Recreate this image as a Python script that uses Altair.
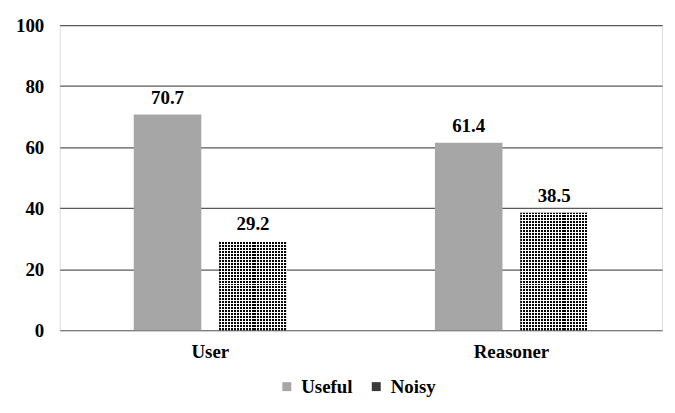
import math
import altair as alt
import pandas as pd

# ---------------- data ----------------
categories = ["User", "Reasoner"]
series = ["Useful", "Noisy"]
useful_values = [70.7, 61.4]
noisy_values = [29.2, 38.5]
y_ticks = [0, 20, 40, 60, 80, 100]

rows = []
for c, u, n in zip(categories, useful_values, noisy_values):
    rows.append({"category": c, "type": "Useful", "value": u})
    rows.append({"category": c, "type": "Noisy", "value": n})
df = pd.DataFrame(rows)

# ---------------- style ----------------
PLOT_W, PLOT_H = 606, 307
FONT = "Times New Roman"
FS = 19
BAR_W = 69
PERIOD = 3.0
GRAY = "#a6a6a6"
FRAME = "#595959"

x_enc = alt.X(
    "category:N", sort=categories,
    scale=alt.Scale(paddingInner=0, paddingOuter=0),
    axis=alt.Axis(title=None, labelAngle=0, ticks=False, domain=False,
                  labelFont=FONT, labelFontWeight="bold", labelFontSize=FS,
                  labelColor="black", labelPadding=12),
)
xo_enc = alt.XOffset(
    "type:N", sort=series,
    scale=alt.Scale(domain=series, paddingInner=0.21, paddingOuter=0.866),
)
y_enc = alt.Y(
    "value:Q",
    scale=alt.Scale(domain=[0, 100], nice=False),
    axis=alt.Axis(title=None, values=y_ticks, ticks=False, domain=False,
                  grid=True, gridColor=FRAME, gridWidth=1.2, gridOpacity=1,
                  labelFont=FONT, labelFontWeight="bold", labelFontSize=FS,
                  labelColor="black", labelPadding=16),
)

base = alt.Chart(df)

bars = base.mark_bar(strokeWidth=0).encode(
    x=x_enc, xOffset=xo_enc, y=y_enc,
    color=alt.Color(
        "type:N", sort=series,
        scale=alt.Scale(domain=series, range=[GRAY, "#3a3a3a"]),
        legend=alt.Legend(
            title=None, orient="none", legendX=219, legendY=354,
            direction="horizontal", symbolType="square", symbolSize=81,
            symbolStrokeWidth=0, labelFont=FONT, labelFontWeight="bold",
            labelFontSize=FS, labelColor="black", labelOffset=5,
            columnPadding=14,
        ),
    ),
)

# vertical black/white stripes (dot pattern part 1)
n_v = round(BAR_W / PERIOD)
v_stops = []
for i in range(n_v):
    a, b, c = i / n_v, (i + 2 / 3) / n_v, (i + 1) / n_v
    v_stops += [
        alt.GradientStop(offset=a, color="black"),
        alt.GradientStop(offset=b, color="black"),
        alt.GradientStop(offset=b, color="white"),
        alt.GradientStop(offset=c, color="white"),
    ]
v_grad = alt.LinearGradient(gradient="linear", stops=v_stops, x1=0, x2=1, y1=0, y2=0)

layers = [bars]
for cat, val in zip(categories, noisy_values):
    h_px = val / 100 * PLOT_H
    k = h_px / PERIOD
    h_stops = []
    for i in range(int(math.ceil(k))):
        a = i / k
        b = min((i + 2 / 3) / k, 1.0)
        c = min((i + 1) / k, 1.0)
        h_stops += [
            alt.GradientStop(offset=a, color="rgba(255,255,255,0)"),
            alt.GradientStop(offset=b, color="rgba(255,255,255,0)"),
            alt.GradientStop(offset=b, color="white"),
            alt.GradientStop(offset=c, color="white"),
        ]
    # anchored at the bar bottom (whole pixel) so stripes stay crisp
    h_grad = alt.LinearGradient(gradient="linear", stops=h_stops, x1=0, x2=0, y1=1, y2=0)
    sel = base.transform_filter(
        (alt.datum.type == "Noisy") & (alt.datum.category == cat)
    )
    layers.append(sel.mark_bar(fill=v_grad, strokeWidth=0).encode(x=x_enc, xOffset=xo_enc, y=y_enc))
    layers.append(sel.mark_bar(fill=h_grad, strokeWidth=0).encode(x=x_enc, xOffset=xo_enc, y=y_enc))

labels = base.mark_text(
    baseline="bottom", dy=-7, font=FONT, fontWeight="bold", fontSize=FS, color="black"
).encode(x=x_enc, xOffset=xo_enc, y=y_enc, text=alt.Text("value:Q", format=".1f"))
layers.append(labels)

chart = alt.layer(*layers).properties(
    width=PLOT_W, height=PLOT_H,
    autosize=alt.AutoSizeParams(type="none"),
    padding={"left": 52, "top": 16, "right": 5, "bottom": 66},
).configure_view(
    stroke=FRAME, strokeWidth=1.6
).configure(background="white", font=FONT)

chart.save("out.html", embed_options={"renderer": "svg", "actions": False})
